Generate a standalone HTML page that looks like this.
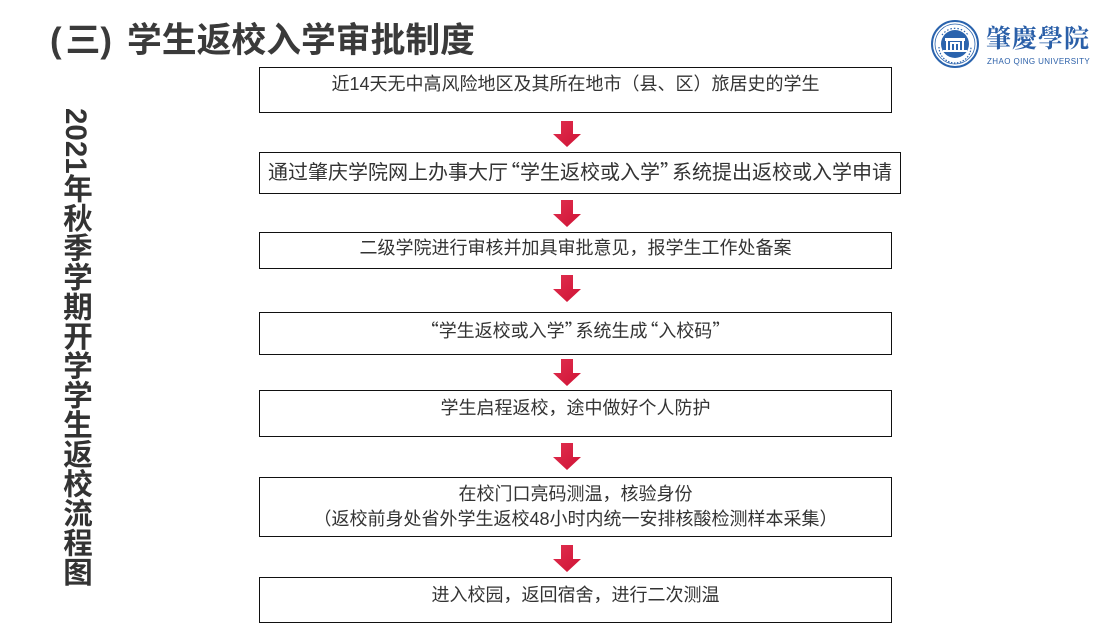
<!DOCTYPE html>
<html>
<head>
<meta charset="utf-8">
<style>
  html, body { margin:0; padding:0; }
  body { width:1118px; height:638px; position:relative; background:#fff; overflow:hidden;
         font-family:"Liberation Sans","Noto Sans CJK SC",sans-serif; color:#333; }
  .title { position:absolute; left:50px; top:21px; font-size:34.8px; line-height:40px; font-weight:bold; color:#3a3a3a; white-space:nowrap; }
  .vert { position:absolute; left:59px; top:108px; writing-mode:vertical-rl; font-size:29.5px; line-height:32px; font-weight:bold; color:#333; white-space:nowrap; }
  .box { position:absolute; left:259px; width:633px; box-sizing:border-box; border:1.5px solid #111; background:#fff; }
  .t { position:absolute; left:259px; width:633px; text-align:center; font-size:18px; line-height:24px; white-space:nowrap; color:#333; }
  .ql { font-family:"Noto Sans CJK SC",sans-serif; margin-left:-0.4em; }
  .qr { font-family:"Noto Sans CJK SC",sans-serif; margin-right:-0.4em; }
</style>
</head>
<body>

<div class="title"><span style="font-family:'Liberation Sans',sans-serif;margin-right:4px;">(</span>三<span style="font-family:'Liberation Sans',sans-serif;margin-right:15px;">)</span>学生返校入学审批制度</div>

<div class="vert">2021年秋季学期开学学生返校流程图</div>

<!-- logo -->
<svg style="position:absolute;left:928px;top:17px" width="56" height="56" viewBox="0 0 56 56">
  <circle cx="27" cy="27" r="23" fill="#fff" stroke="#2a63ad" stroke-width="2"/>
  <circle cx="27" cy="27" r="20" fill="none" stroke="#2a63ad" stroke-width="0.8"/>
  <circle cx="27" cy="27" r="14" fill="#2a63ad"/>
  <rect x="17" y="21" width="20" height="3" fill="#fff"/>
  <rect x="18" y="24" width="2" height="9" fill="#fff"/>
  <rect x="34" y="24" width="2" height="9" fill="#fff"/>
  <rect x="22" y="25" width="10" height="8" fill="#fff"/>
  <rect x="24" y="27" width="2" height="6" fill="#2a63ad"/>
  <rect x="28" y="27" width="2" height="6" fill="#2a63ad"/>
  <rect x="15" y="33" width="24" height="2" fill="#fff"/>
  <path d="M11 30 A16 16 0 0 0 43 30" fill="none" stroke="#2a63ad" stroke-width="1.2" stroke-dasharray="1.5 1.5"/>
  <path d="M14 18 A16 16 0 0 1 40 18" fill="none" stroke="#2a63ad" stroke-width="1.2" stroke-dasharray="1.5 2"/>
</svg>
<div style="position:absolute;left:986px;top:20px;font-family:'Noto Serif CJK SC','Noto Serif CJK TC',serif;font-weight:bold;font-size:25px;line-height:34px;color:#2a5fa8;letter-spacing:1px;white-space:nowrap;">肇慶學院</div>
<div style="position:absolute;left:987px;top:57px;font-size:8px;line-height:10px;color:#2a5fa8;letter-spacing:0.4px;white-space:nowrap;">ZHAO QING UNIVERSITY</div>

<!-- boxes -->
<div class="box" style="top:67px;height:46px;"></div>
<div class="box" style="top:152px;height:42px;width:642px;"></div>
<div class="box" style="top:232px;height:37px;"></div>
<div class="box" style="top:312px;height:43px;"></div>
<div class="box" style="top:390px;height:47px;"></div>
<div class="box" style="top:477px;height:60px;"></div>
<div class="box" style="top:577px;height:46px;"></div>

<!-- texts -->
<div class="t" style="top:72px;">近14天无中高风险地区及其所在地市（县、区）旅居史的学生</div>
<div class="t" style="top:158px;width:642px;font-size:20px;line-height:26px;">通过肇庆学院网上办事大厅<span class="ql">“</span>学生返校或入学<span class="qr">”</span>系统提出返校或入学申请</div>
<div class="t" style="top:236px;">二级学院进行审核并加具审批意见，报学生工作处备案</div>
<div class="t" style="top:318px;"><span class="ql">“</span>学生返校或入学<span class="qr">”</span>系统生成<span class="ql">“</span>入校码<span class="qr">”</span></div>
<div class="t" style="top:396px;">学生启程返校，途中做好个人防护</div>
<div class="t" style="top:482px;">在校门口亮码测温，核验身份</div>
<div class="t" style="top:507px;">（返校前身处省外学生返校48小时内统一安排核酸检测样本采集）</div>
<div class="t" style="top:583px;">进入校园，返回宿舍，进行二次测温</div>

<!-- arrows -->
<svg style="position:absolute;left:0;top:0" width="1118" height="638">
  <defs>
    <linearGradient id="g" x1="0" y1="0" x2="1" y2="1">
      <stop offset="0" stop-color="#e0304f"/>
      <stop offset="1" stop-color="#cf1235"/>
    </linearGradient>
  </defs>
  <g fill="url(#g)">
    <polygon points="561,121 573,121 573,134 581,134 567,147 553,134 561,134"/>
    <polygon points="561,200 573,200 573,214 581,214 567,227 553,214 561,214"/>
    <polygon points="561,275 573,275 573,289 581,289 567,302 553,289 561,289"/>
    <polygon points="561,359 573,359 573,373 581,373 567,386 553,373 561,373"/>
    <polygon points="561,443 573,443 573,457 581,457 567,470 553,457 561,457"/>
    <polygon points="561,545 573,545 573,559 581,559 567,572 553,559 561,559"/>
  </g>
</svg>

</body>
</html>
